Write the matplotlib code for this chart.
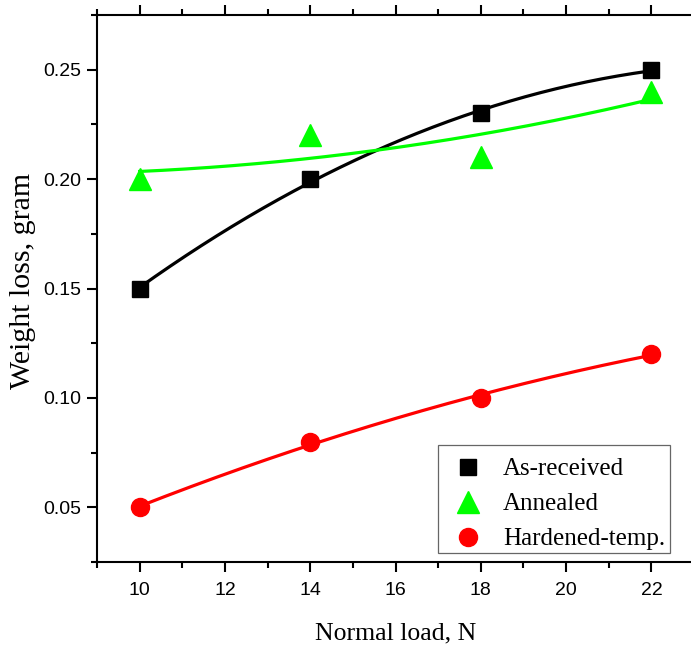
import numpy as np
import matplotlib
matplotlib.use("Agg")
import matplotlib.pyplot as plt
from matplotlib.patches import Rectangle
from matplotlib.ticker import MultipleLocator, FormatStrFormatter

load = [10, 14, 18, 22]
as_received = [0.15, 0.20, 0.23, 0.25]
annealed = [0.20, 0.22, 0.21, 0.24]
hardened = [0.05, 0.08, 0.10, 0.12]

series = [
    ("As-received", as_received, "black", "s", 12),
    ("Annealed", annealed, "#00ff00", "^", 16),
    ("Hardened-temp.", hardened, "#ff0000", "o", 13),
]

fig = plt.figure(figsize=(6.91, 6.52), dpi=100)
ax = fig.add_axes([0.1404, 0.138, 0.864, 0.839])

xs = np.linspace(10, 22, 200)
handles = []
for name, vals, color, marker, ms in series:
    # second-order polynomial trend through each series
    coef = np.polyfit(load, vals, 2)
    ax.plot(xs, np.polyval(coef, xs), color=color, lw=2.3, zorder=2)
    h, = ax.plot(load, vals, ls="none", marker=marker, ms=ms, color=color,
                 mec=color, zorder=3, label=name)
    handles.append(h)

ax.set_xlim(9, 23)
ax.set_ylim(0.025, 0.275)
ax.xaxis.set_major_locator(MultipleLocator(2))
ax.xaxis.set_minor_locator(MultipleLocator(1))
ax.yaxis.set_major_locator(MultipleLocator(0.05))
ax.yaxis.set_minor_locator(MultipleLocator(0.025))
ax.yaxis.set_major_formatter(FormatStrFormatter("%.2f"))

ax.spines["right"].set_visible(False)
for s in ["left", "top", "bottom"]:
    ax.spines[s].set_linewidth(1.5)
ax.tick_params(which="both", direction="out", top=True, width=1.5,
               labelsize=14, labelfontfamily="Liberation Sans")
ax.tick_params(which="major", length=7.5)
ax.tick_params(which="minor", length=4)
ax.tick_params(axis="x", which="major", pad=7)
ax.tick_params(axis="y", which="major", pad=4)

ax.set_xlabel("Normal load, N", family="Liberation Serif", fontsize=18.5, labelpad=17)
ax.set_ylabel("Weight loss, gram", family="Liberation Serif", fontsize=21.5)
ax.yaxis.set_label_coords(-0.102, 0.514)

# legend entries without frame, box drawn separately so the rows sit lower
leg = fig.legend(handles=handles, loc="lower left",
                 bbox_to_anchor=(0.634, 0.1443, 0.336, 0.166), mode="expand",
                 prop={"family": "Liberation Serif", "size": 18},
                 frameon=False, handletextpad=0.5, labelspacing=0.5,
                 borderaxespad=0.0, borderpad=0.3, handlelength=1.8)
fig.add_artist(Rectangle((0.634, 0.152), 0.336, 0.1656, transform=fig.transFigure,
                         fill=False, edgecolor="#666666", lw=0.9))

fig.savefig("out.png", dpi=100)
